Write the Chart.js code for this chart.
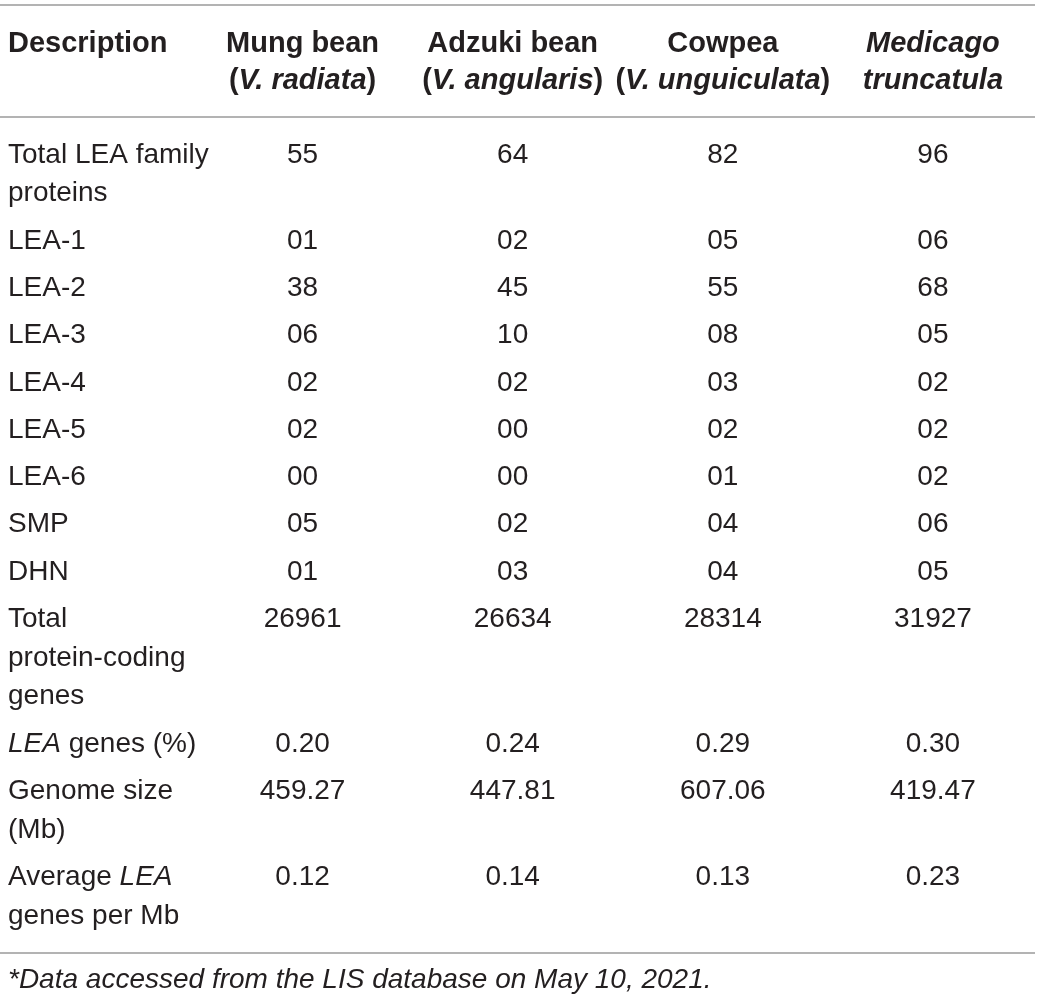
<!DOCTYPE html>
<html>
<head>
<meta charset="utf-8">
<script src="https://cdn.jsdelivr.net/npm/chart.js@4.4.1/dist/chart.umd.min.js"></script>
<style>
  html, body { margin: 0; padding: 0; background: #fff; }
  #wrap { width: 1040px; height: 1001px; position: relative; }
</style>
</head>
<body>
<div id="wrap"><canvas id="tableChart"></canvas></div>
<script>
// column headers (two lines each), <i>..</i> marks italic
const species = [
  ["Mung bean", "(<i>V. radiata</i>)"],
  ["Adzuki bean", "(<i>V. angularis</i>)"],
  ["Cowpea", "(<i>V. unguiculata</i>)"],
  ["<i>Medicago</i>", "<i>truncatula</i>"]
];
const firstHeader = "Description";

// row labels, one entry per printed line
const descriptions = [
  ["Total LEA family", "proteins"],
  ["LEA-1"],
  ["LEA-2"],
  ["LEA-3"],
  ["LEA-4"],
  ["LEA-5"],
  ["LEA-6"],
  ["SMP"],
  ["DHN"],
  ["Total", "protein-coding", "genes"],
  ["<i>LEA</i> genes (%)"],
  ["Genome size", "(Mb)"],
  ["Average <i>LEA</i>", "genes per Mb"]
];

// cell values per species (kept as printed, with leading zeros)
const mungBean   = ["55", "01", "38", "06", "02", "02", "00", "05", "01", "26961", "0.20", "459.27", "0.12"];
const adzukiBean = ["64", "02", "45", "10", "02", "00", "00", "02", "03", "26634", "0.24", "447.81", "0.14"];
const cowpea     = ["82", "05", "55", "08", "03", "02", "01", "04", "04", "28314", "0.29", "607.06", "0.13"];
const medicago   = ["96", "06", "68", "05", "02", "02", "02", "06", "05", "31927", "0.30", "419.47", "0.23"];

const footnote = "<i>*Data accessed from the LIS database on May 10, 2021.</i>";

const columns = [mungBean, adzukiBean, cowpea, medicago];
const colKeys = species.map(s => s[0]);

// row position in "text line" units: each row takes its line count plus a small gap
const ROW_GAP = 0.22;
const rowStart = [];
let acc = 0;
descriptions.forEach(d => { rowStart.push(acc); acc += d.length + ROW_GAP; });
const yMax = rowStart[rowStart.length - 1] + descriptions[descriptions.length - 1].length - 1;

const TEXT = "#231f20";
const RULE = "#9a9a9a";
const FAMILY = '"Liberation Sans", Arial, Helvetica, sans-serif';
const BODY_SIZE = 28;
const HEAD_SIZE = 29;

function runs(str) {
  const out = [];
  let italic = false;
  str.split(/(<i>|<\/i>)/).forEach(p => {
    if (p === "<i>") italic = true;
    else if (p === "</i>") italic = false;
    else if (p) out.push({ t: p, italic });
  });
  return out;
}

function fontFor(run, bold, size) {
  return (run.italic ? "italic " : "") + (bold ? "bold " : "") + size + "px " + FAMILY;
}

function drawRich(ctx, str, x, y, align, bold, size) {
  const parts = runs(str);
  let total = 0;
  parts.forEach(r => { ctx.font = fontFor(r, bold, size); r.w = ctx.measureText(r.t).width; total += r.w; });
  let cx = align === "center" ? x - total / 2 : x;
  parts.forEach(r => {
    ctx.font = fontFor(r, bold, size);
    ctx.fillText(r.t, cx, y);
    cx += r.w;
  });
}

const tablePlugin = {
  id: "tableText",
  afterDatasetsDraw(chart) {
    const ctx = chart.ctx;
    const area = chart.chartArea;
    const xs = chart.scales.x;
    const ys = chart.scales.y;
    ctx.save();
    ctx.fillStyle = TEXT;
    ctx.textBaseline = "middle";
    ctx.textAlign = "left";

    // rules
    ctx.strokeStyle = RULE;
    ctx.lineWidth = 1.5;
    [area.top - 150, area.top - 38, area.bottom + 37].forEach(y => {
      ctx.beginPath();
      ctx.moveTo(0, y);
      ctx.lineTo(1035, y);
      ctx.stroke();
    });

    // header
    const h1 = area.top - 111, h2 = area.top - 74;
    drawRich(ctx, firstHeader, 8, h1, "left", true, HEAD_SIZE);
    species.forEach((lines, c) => {
      const px = xs.getPixelForValue(c);
      lines.forEach((ln, k) => drawRich(ctx, ln, px, k === 0 ? h1 : h2, "center", true, HEAD_SIZE));
    });

    // description column
    descriptions.forEach((lines, r) => {
      lines.forEach((ln, k) => {
        drawRich(ctx, ln, 8, ys.getPixelForValue(rowStart[r] + k), "left", false, BODY_SIZE);
      });
    });

    // value cells from dataset points
    chart.data.datasets.forEach((ds, di) => {
      const meta = chart.getDatasetMeta(di);
      meta.data.forEach((pt, i) => {
        drawRich(ctx, ds.data[i].v, pt.x, pt.y, "center", false, BODY_SIZE);
      });
    });

    // footnote
    drawRich(ctx, footnote, 8, area.bottom + 64, "left", false, BODY_SIZE);
    ctx.restore();
  }
};

new Chart(document.getElementById("tableChart").getContext("2d"), {
  type: "scatter",
  data: {
    datasets: columns.map((vals, c) => ({
      label: colKeys[c],
      data: vals.map((v, r) => ({ x: colKeys[c], y: rowStart[r], v })),
      pointRadius: 0,
      pointHoverRadius: 0
    }))
  },
  options: {
    responsive: true,
    maintainAspectRatio: false,
    animation: false,
    events: [],
    layout: { padding: { top: 155, bottom: 85, left: 197.5, right: 2 } },
    plugins: { legend: { display: false }, tooltip: { enabled: false } },
    scales: {
      x: { type: "category", labels: colKeys, offset: true, display: false },
      y: { type: "linear", min: 0, max: yMax, reverse: true, display: false }
    }
  },
  plugins: [tablePlugin]
});
</script>
</body>
</html>
